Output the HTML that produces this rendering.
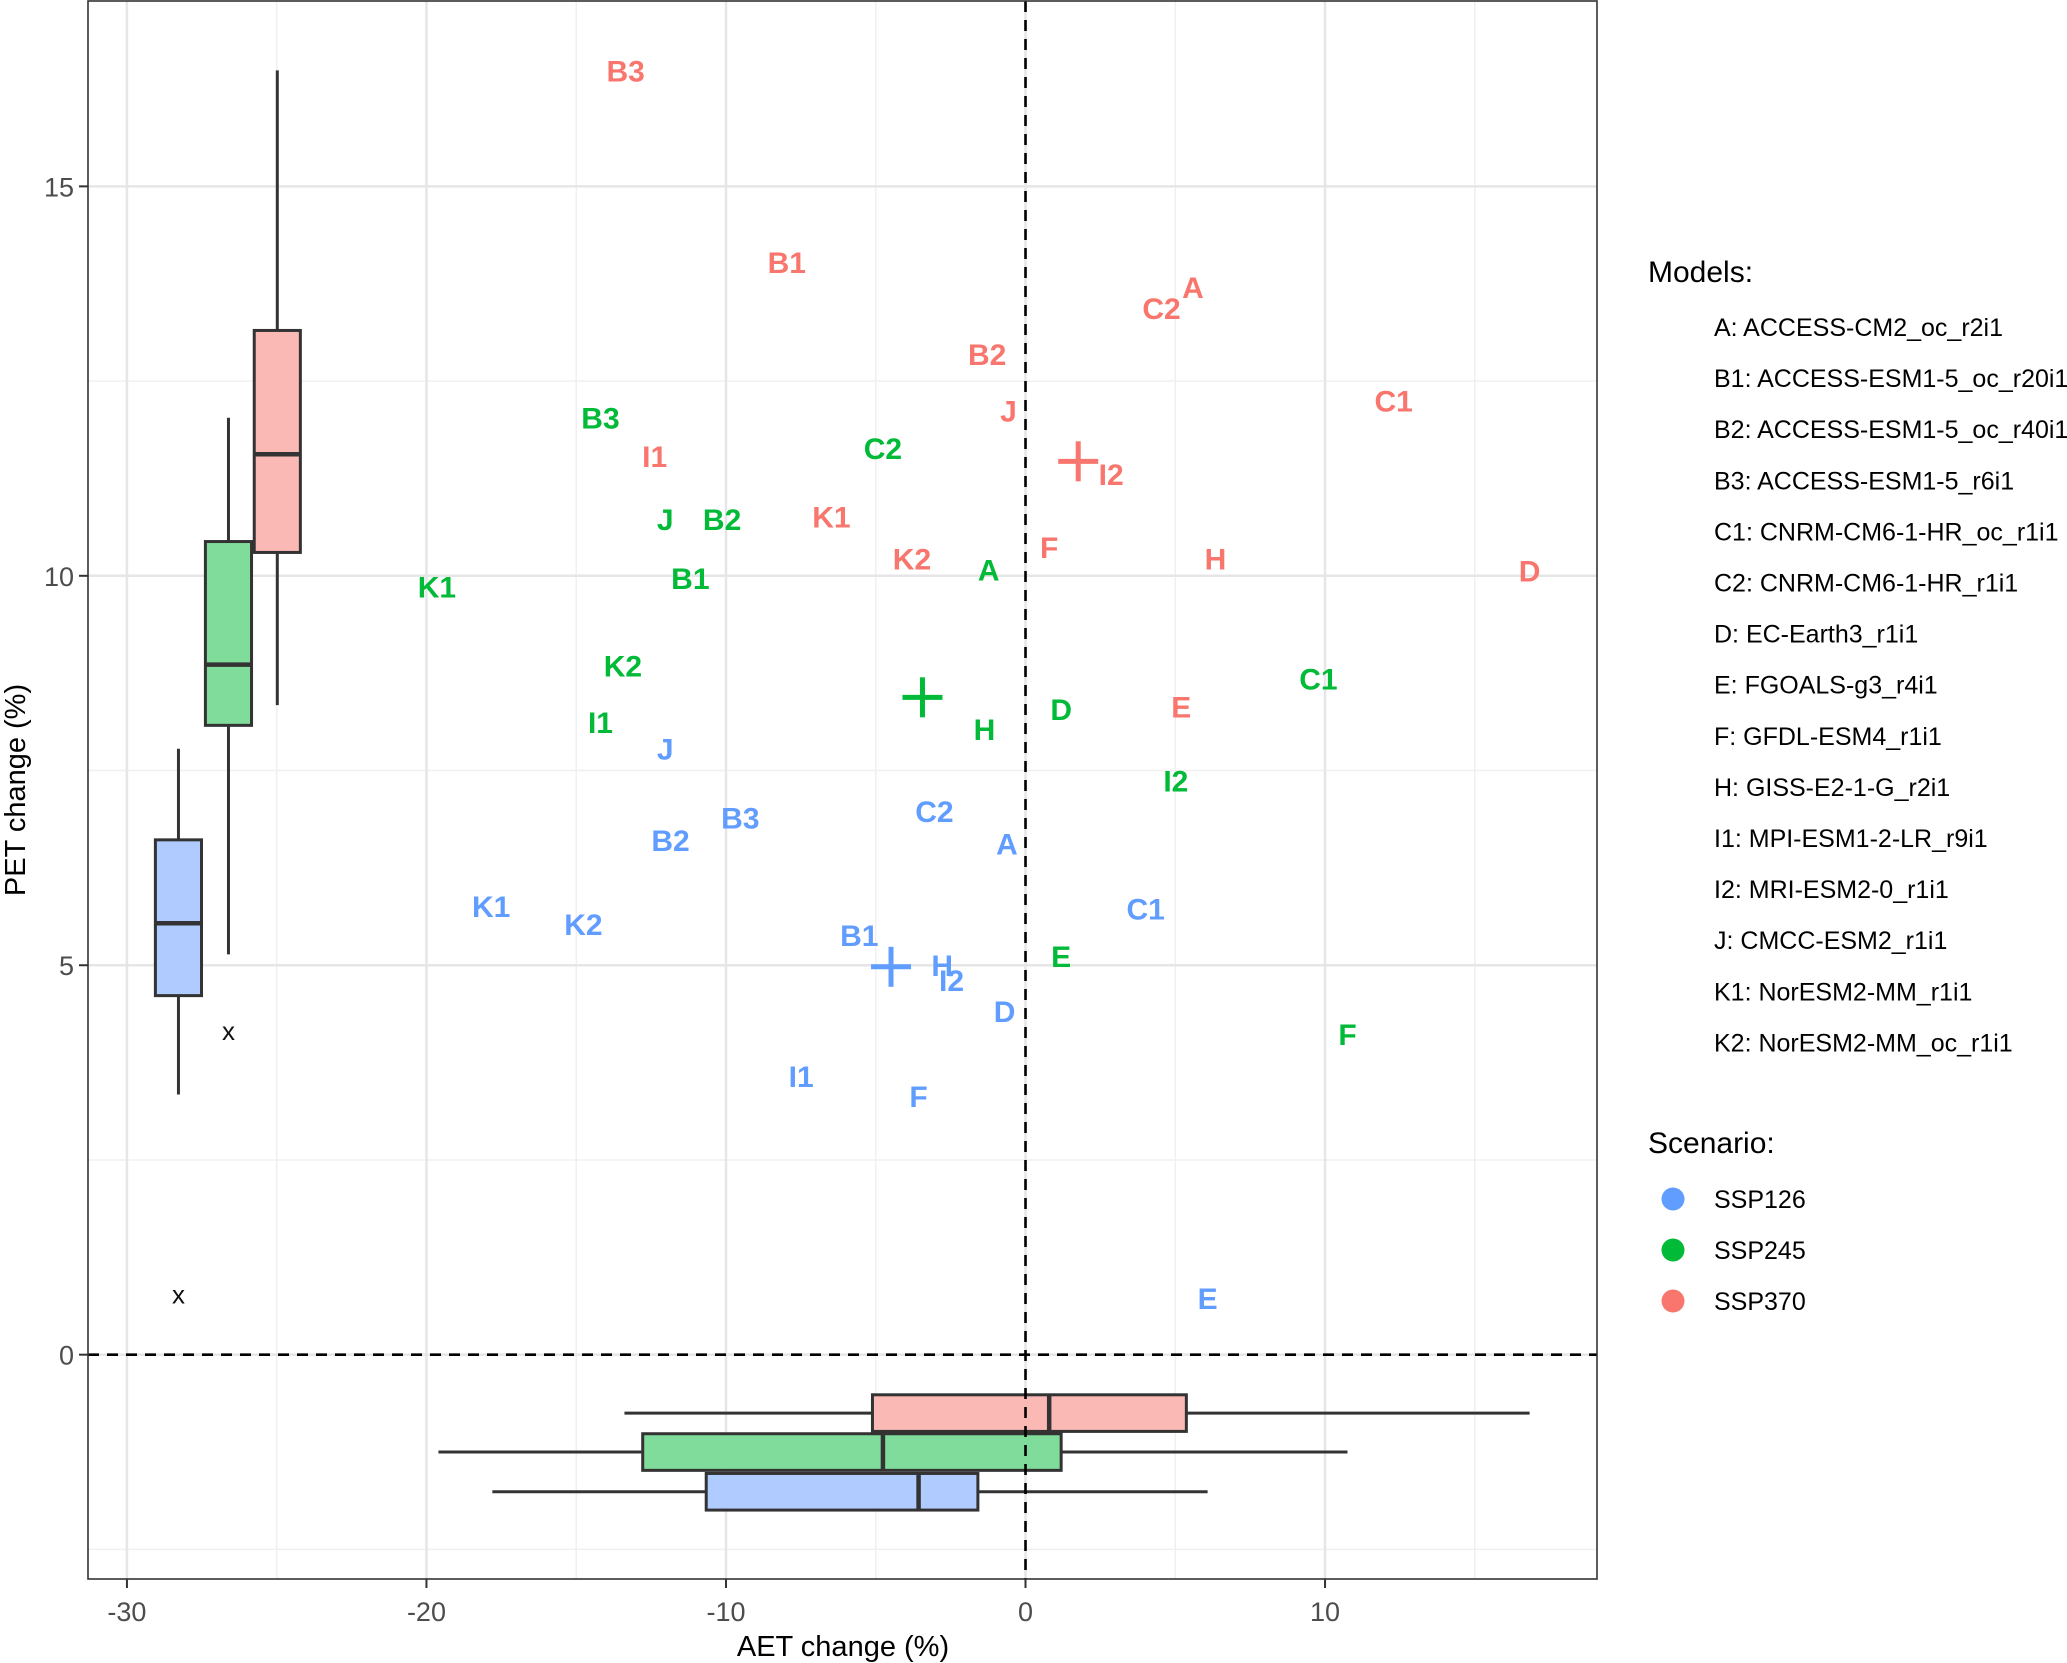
<!DOCTYPE html>
<html><head><meta charset="utf-8"><style>
html,body{margin:0;padding:0;background:#fff}
svg{display:block;font-family:"Liberation Sans",Arial,sans-serif}
</style></head><body>
<svg id="chart" width="2067" height="1663" viewBox="0 0 2067 1663" xmlns="http://www.w3.org/2000/svg">
<g id="grid"></g>
<g id="boxes"></g>
<g id="refs"></g>
<g id="marks"></g>
<rect x="88" y="1" width="1509" height="1578" fill="none" stroke="#333" stroke-width="1.6"/>
<g id="axes"></g>
<text x="843" y="1656" font-size="29" fill="#000" text-anchor="middle">AET change (%)</text>
<text transform="translate(25,790) rotate(-90)" font-size="29" fill="#000" text-anchor="middle">PET change (%)</text>
<g id="legend"></g>
</svg>
<script>
const NS="http://www.w3.org/2000/svg";
const scenarios=["SSP126","SSP245","SSP370"];
const colors={SSP126:"#619CFF",SSP245:"#00BA38",SSP370:"#F8766D"};
const fills={SSP126:"#AFCBFF",SSP245:"#80DC9B",SSP370:"#FBB9B5"};
const labels=["A","B1","B2","B3","C1","C2","D","E","F","H","I1","I2","J","K1","K2"];
const aet370=[5.59,-7.97,-1.28,-13.35,12.29,4.54,16.83,5.20,0.79,6.34,-12.38,2.86,-0.57,-6.48,-3.79];
const pet370=[13.71,14.03,12.85,16.49,12.25,13.44,10.07,8.32,10.37,10.22,11.54,11.31,12.12,10.76,10.22];
const aet245=[-1.23,-11.19,-10.13,-14.19,9.78,-4.76,1.19,1.19,10.75,-1.37,-14.19,5.02,-12.03,-19.65,-13.44];
const pet245=[10.08,9.97,10.73,12.03,8.68,11.64,8.29,5.12,4.12,8.03,8.12,7.37,10.73,9.86,8.85];
const aet126=[-0.62,-5.55,-11.85,-9.52,4.01,-3.04,-0.70,6.08,-3.57,-2.78,-7.49,-2.47,-12.03,-17.84,-14.76];
const pet126=[6.56,5.39,6.61,6.90,5.73,6.98,4.41,0.73,3.32,5.00,3.58,4.81,7.78,5.76,5.53];
const meanAET=[-4.49,-3.44,1.76];
const meanPET=[4.98,8.44,11.47];
// vertical (PET) box stats: lower, q1, median, q3, upper, outlier
const petBox=[[3.34,4.61,5.54,6.61,7.78,0.76],[5.14,8.08,8.86,10.44,12.03,4.14],[8.34,10.30,11.56,13.15,16.49,null]];
const petBoxX=[-28.28,-26.61,-24.98];
const aetBox=[[-17.8,-10.66,-3.57,-1.59,6.08],[-19.6,-12.78,-4.76,1.19,10.75],[-13.39,-5.11,0.79,5.37,16.83]];
const aetBoxY=[-1.76,-1.25,-0.75];
const xTicks=[-30,-20,-10,0,10];
const xMinor=[-25,-15,-5,5,15];
const yTicks=[0,5,10,15];
const yMinor=[-2.5,2.5,7.5,12.5];
const models=["A: ACCESS-CM2_oc_r2i1","B1: ACCESS-ESM1-5_oc_r20i1","B2: ACCESS-ESM1-5_oc_r40i1","B3: ACCESS-ESM1-5_r6i1","C1: CNRM-CM6-1-HR_oc_r1i1","C2: CNRM-CM6-1-HR_r1i1","D: EC-Earth3_r1i1","E: FGOALS-g3_r4i1","F: GFDL-ESM4_r1i1","H: GISS-E2-1-G_r2i1","I1: MPI-ESM1-2-LR_r9i1","I2: MRI-ESM2-0_r1i1","J: CMCC-ESM2_r1i1","K1: NorESM2-MM_r1i1","K2: NorESM2-MM_oc_r1i1"];

const X0=88,X1=1597,Y0=1,Y1=1579;
const xmin=-31.3,xmax=19.08,ymin=-2.88,ymax=17.38;
const sx=v=>X0+(v-xmin)/(xmax-xmin)*(X1-X0);
const sy=v=>Y1-(v-ymin)/(ymax-ymin)*(Y1-Y0);
function mk(tag,attrs,parent){const e=document.createElementNS(NS,tag);for(const k in attrs)e.setAttribute(k,attrs[k]);parent.appendChild(e);return e;}
const grid=document.getElementById('grid'),boxes=document.getElementById('boxes'),refs=document.getElementById('refs'),marks=document.getElementById('marks'),axes=document.getElementById('axes'),legend=document.getElementById('legend');

xMinor.forEach(v=>{const l=mk('line',{x1:sx(v),x2:sx(v),y1:Y0,y2:Y1,stroke:'#f0f0f0','stroke-width':1.5},grid);});
yMinor.forEach(v=>{const l=mk('line',{x1:X0,x2:X1,y1:sy(v),y2:sy(v),stroke:'#f0f0f0','stroke-width':1.5},grid);});
xTicks.forEach(v=>{const l=mk('line',{x1:sx(v),x2:sx(v),y1:Y0,y2:Y1,stroke:'#e6e6e6','stroke-width':2.5},grid);
 const t=mk('line',{x1:sx(v),x2:sx(v),y1:Y1,y2:Y1+9,stroke:'#333','stroke-width':2},axes);
 const tx=mk('text',{x:sx(v),y:Y1+42,'font-size':27,fill:'#4d4d4d','text-anchor':'middle'},axes);tx.textContent=v;});
yTicks.forEach(v=>{const l=mk('line',{x1:X0,x2:X1,y1:sy(v),y2:sy(v),stroke:'#e6e6e6','stroke-width':2.5},grid);
 const t=mk('line',{x1:X0-9,x2:X0,y1:sy(v),y2:sy(v),stroke:'#333','stroke-width':2},axes);
 const tx=mk('text',{x:X0-14,y:sy(v)+10,'font-size':27,fill:'#4d4d4d','text-anchor':'end'},axes);tx.textContent=v;});

const bw=1.54, bh=0.47;
scenarios.forEach((s,i)=>{
 const b=petBox[i],cx=sx(petBoxX[i]),hw=(sx(bw)-sx(0))/2;
 let w=mk('line',{x1:cx,x2:cx,y1:sy(b[0]),y2:sy(b[4]),stroke:'#333','stroke-width':3},boxes);
 let r=mk('rect',{x:cx-hw,y:sy(b[3]),width:2*hw,height:sy(b[1])-sy(b[3]),fill:fills[s],stroke:'#333','stroke-width':3},boxes);
 let m=mk('line',{x1:cx-hw,x2:cx+hw,y1:sy(b[2]),y2:sy(b[2]),stroke:'#333','stroke-width':4.5},boxes);
 if(b[5]!==null){let o=mk('text',{x:cx,y:sy(b[5])+8,'font-size':26,fill:'#111','text-anchor':'middle'},boxes);o.textContent='x';}
 const a=aetBox[i],cy=sy(aetBoxY[i]),hh=(sy(0)-sy(bh))/2;
 w=mk('line',{x1:sx(a[0]),x2:sx(a[4]),y1:cy,y2:cy,stroke:'#333','stroke-width':3},boxes);
 r=mk('rect',{x:sx(a[1]),y:cy-hh,width:sx(a[3])-sx(a[1]),height:2*hh,fill:fills[s],stroke:'#333','stroke-width':3},boxes);
 m=mk('line',{x1:sx(a[2]),x2:sx(a[2]),y1:cy-hh,y2:cy+hh,stroke:'#333','stroke-width':4.5},boxes);
});
let d=mk('line',{x1:sx(0),x2:sx(0),y1:Y0,y2:Y1,stroke:'#000','stroke-width':2.6,'stroke-dasharray':'11,8'},refs);
d=mk('line',{x1:X0,x2:X1,y1:sy(0),y2:sy(0),stroke:'#000','stroke-width':2.6,'stroke-dasharray':'11,8'},refs);

const series={SSP126:[aet126,pet126],SSP245:[aet245,pet245],SSP370:[aet370,pet370]};
scenarios.forEach((s,i)=>{
 const [ax,py]=series[s];
 labels.forEach((lab,j)=>{const t=mk('text',{x:sx(ax[j]),y:sy(py[j])+11,'font-size':30,'font-weight':'bold',fill:colors[s],'text-anchor':'middle'},marks);t.textContent=lab;
  
  });
 const cx=sx(meanAET[i]),cy=sy(meanPET[i]);
 const g=mk('g',{stroke:colors[s],'stroke-width':5},marks);
 
 
 mk('line',{x1:cx-20,x2:cx+20,y1:cy,y2:cy},g);mk('line',{x1:cx,x2:cx,y1:cy-20,y2:cy+20},g);
});

let t=mk('text',{x:1648,y:282,'font-size':30,fill:'#000'},legend);t.textContent='Models:';
models.forEach((m,i)=>{const e=mk('text',{x:1714,y:336+i*51.1,'font-size':25,fill:'#000'},legend);e.textContent=m;
 
 });
t=mk('text',{x:1648,y:1153,'font-size':30,fill:'#000'},legend);t.textContent='Scenario:';
scenarios.forEach((s,i)=>{const c=mk('circle',{cx:1673,cy:1199+i*51,r:11.5,fill:colors[s]},legend);
 
 
 const e=mk('text',{x:1714,y:1208+i*51,'font-size':25,fill:'#000'},legend);e.textContent=s;
 
 });
</script>
</body></html>
